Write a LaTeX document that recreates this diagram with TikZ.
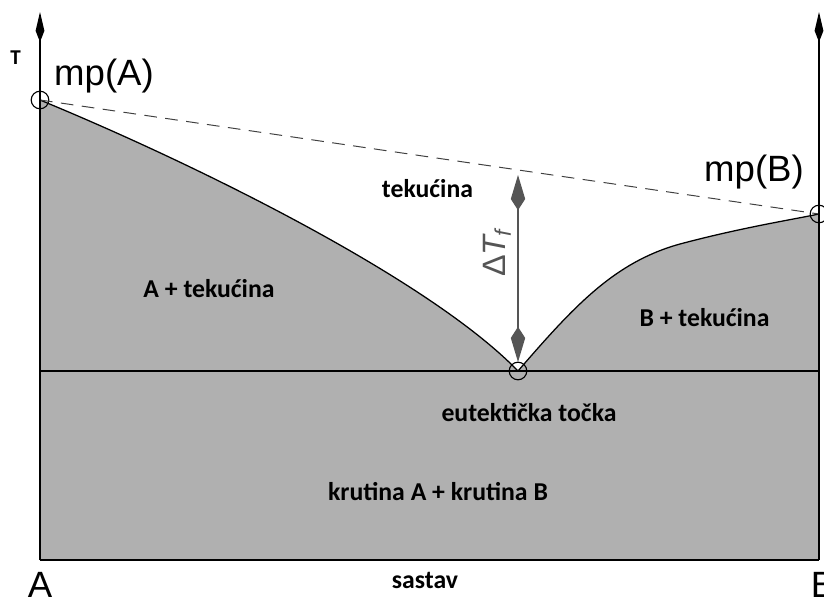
\documentclass[tikz,border=0pt]{standalone}
\usepackage{fontspec}
\setmainfont{Carlito}
\newfontfamily\arialfont{Liberation Sans}
\usetikzlibrary{arrows.meta,positioning,calc}
\definecolor{phasegray}{RGB}{176,176,176}
\definecolor{dtgray}{RGB}{85,85,85}

\begin{document}
\begin{tikzpicture}[x=0.025cm,y=-0.025cm,
ring/.style={circle,draw=black,line width=0.8pt,minimum size=0.44cm,inner sep=0pt},
lbl/.style={font=\fontsize{18.3}{21}\selectfont\bfseries,inner sep=0pt},
big/.style={font=\arialfont\fontsize{26}{30}\selectfont,inner sep=0pt},
axis/.style={line width=0.9pt,-{Kite[length=0.75cm,width=0.22cm,inset=0.28cm]}},
dtarrow/.style={{Kite[length=0.88cm,width=0.36cm,inset=0.28cm]}-{Kite[length=0.88cm,width=0.36cm,inset=0.28cm]}}]
\useasboundingbox (0,0) rectangle (824,598);
% phase regions
\fill[phasegray] (40,560) -- (40,100) .. controls (200,166) and (430,280) .. (518,371)
  .. controls (575,305) and (615,262) .. (680,244) .. controls (740,228) and (790,220) .. (819,214)
  -- (819,560) -- cycle;
\node[ring] (mpA) at (40,100) {};
\node[ring] (eut) at (518,371) {};
\node[ring] (mpB) at (819,214) {};
\coordinate (bend) at (680,244);
\coordinate (baseA) at (40,560);
\coordinate (baseB) at (819,560);
\coordinate (solA) at (40,371);
\coordinate (solB) at (819,371);
\draw[line width=0.9pt] (mpA.center) .. controls (200,166) and (430,280) .. (eut.center)
  .. controls (575,305) and (615,262) .. (bend) .. controls (740,228) and (790,220) .. (mpB.center);
\draw[line width=0.8pt] (solA) -- (solB);
\draw[line width=1pt] (baseA) -- (baseB);
\draw[dashed,dash pattern=on 9pt off 6pt,line width=0.7pt,black!75] (mpA.center) -- (mpB.center);
% axes
\coordinate (topA) at (40,12);
\coordinate (topB) at (819,12);
\draw[axis] (baseA) -- (topA);
\draw[axis] (baseB) -- (topB);
% freezing point depression
\coordinate (dtTop) at (518,175);
\coordinate (dtBot) at (518,362);
\draw[dtgray,line width=0.9pt,dtarrow] (dtTop) -- (dtBot);
\node[rotate=90,font=\arialfont\fontsize{23}{26}\selectfont,text=dtgray,inner sep=0pt] (dtlbl) at (497,252) {Δ\kern-1pt\textit{T}\textsubscript{\kern-2pt\textit{f}}};
% labels
\node[font=\fontsize{15}{17}\selectfont\bfseries,inner sep=0pt] (tlbl) at (15.5,57.5) {T};
\node[big] (mpAlbl) at (104,76) {mp(A)};
\node[big] (mpBlbl) at (754,172) {mp(B)};
\node[lbl] (liq) at (427.5,189) {tekućina};
\node[lbl] (aliq) at (209,289) {A + tekućina};
\node[lbl] (bliq) at (704.5,318) {B + tekućina};
\node[lbl] (eutlbl) at (529,413) {eutektička točka};
\node[lbl] (solid) at (438,492) {krutina A + krutina B};
\node[lbl] (comp) at (425,580) {sastav};
\node[big] (Albl) at (40,585) {A};
\node[big] (Blbl) at (823,585) {B};
\end{tikzpicture}
\end{document}
